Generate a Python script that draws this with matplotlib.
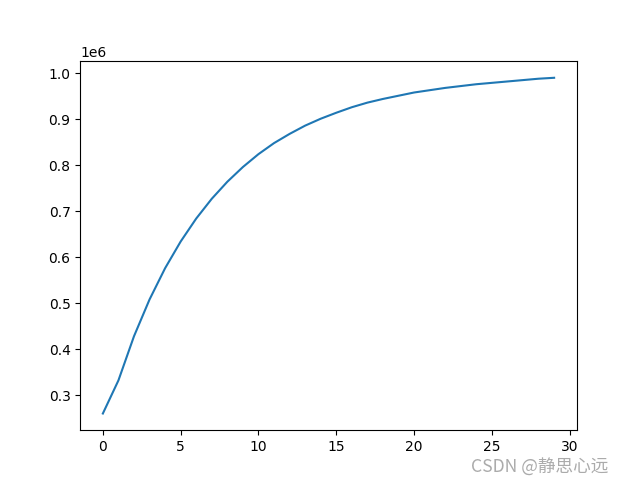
import matplotlib
matplotlib.use("Agg")
import matplotlib.pyplot as plt

x_values = list(range(30))
y_values = [0.260, 0.332, 0.428, 0.508, 0.576, 0.634, 0.684, 0.727, 0.764, 0.796,
            0.824, 0.848, 0.868, 0.886, 0.901, 0.914, 0.926, 0.936, 0.944, 0.951,
            0.958, 0.963, 0.968, 0.972, 0.976, 0.979, 0.982, 0.985, 0.988, 0.990]
y_values = [v * 1e6 for v in y_values]
watermark = "CSDN @静思心远"

fig = plt.figure(figsize=(6.24, 4.83), dpi=100)
ax = fig.add_axes([80.3 / 624, 1 - 430.3 / 483, 496.4 / 624, 369.3 / 483])
ax.plot(x_values, y_values)

fig.text(608.3 / 624, 1 - 467.5 / 483, watermark, ha="right", va="center",
         fontsize=12.7, color="#ababab",
         family=["Noto Sans CJK SC", "DejaVu Sans"])

fig.savefig("out.png", dpi=100)
